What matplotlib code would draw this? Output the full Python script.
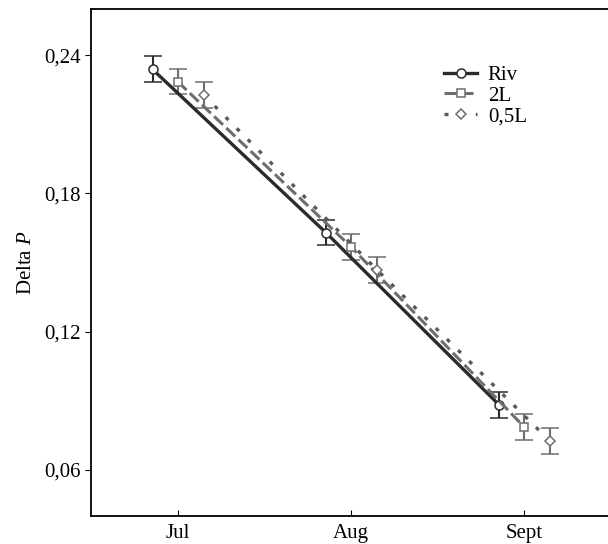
import matplotlib
matplotlib.use("Agg")
import matplotlib.pyplot as plt
from matplotlib.ticker import FuncFormatter
import numpy as np

months = ["Jul", "Aug", "Sept"]
series_names = ["Riv", "2L", "0,5L"]
riv_mean = [0.2338, 0.1630, 0.0882]
riv_err = [0.0057, 0.0056, 0.0057]
l2_mean = [0.2285, 0.1568, 0.0786]
l2_err = [0.0054, 0.0056, 0.0057]
l05_mean = [0.2227, 0.1468, 0.0724]
l05_err = [0.0056, 0.0056, 0.0057]

plt.rcParams["font.family"] = ["Liberation Serif", "DejaVu Serif"]
plt.rcParams["mathtext.fontset"] = "custom"
plt.rcParams["mathtext.it"] = "Liberation Serif:italic"
plt.rcParams["mathtext.rm"] = "Liberation Serif"

fig = plt.figure(figsize=(6.08, 5.44), dpi=100)
ax = fig.add_axes([0.1497, 0.0515, 0.855, 0.932])

x = np.arange(len(months))
styles = [
    dict(mean=riv_mean, err=riv_err, dx=-0.145, color="#2b2b2b", ecolor="#2b2b2b",
         ls="-", lw=2.4, marker="o", ms=6.5),
    dict(mean=l2_mean, err=l2_err, dx=0.0, color="#6e6e6e", ecolor="#6e6e6e",
         ls=(0, (4, 1.5)), lw=2.2, marker="s", ms=5.5),
    dict(mean=l05_mean, err=l05_err, dx=0.15, color="#5a5a5a", ecolor="#6e6e6e",
         ls=(0, (1.2, 3.5)), lw=2.4, marker="D", ms=4.8),
]
for name, s in zip(series_names, styles):
    ax.errorbar(x + s["dx"], s["mean"], yerr=s["err"], color=s["color"], ecolor=s["ecolor"],
                linestyle=s["ls"], linewidth=s["lw"], marker=s["marker"], markersize=s["ms"],
                markerfacecolor="white", markeredgecolor=s["ecolor"], markeredgewidth=1.1,
                elinewidth=1.5, capsize=6.5, capthick=1.5, label=name)

ax.set_xlim(-0.5, 2.5)
ax.set_ylim(0.04, 0.26)
ax.set_xticks(x)
ax.set_xticklabels(months)
ax.set_yticks([0.06, 0.12, 0.18, 0.24])
ax.yaxis.set_major_formatter(FuncFormatter(lambda v, p: f"{v:.2f}".replace(".", ",")))
ax.tick_params(axis="x", direction="in", length=4, labelsize=15, pad=6)
ax.tick_params(axis="y", direction="out", length=4, labelsize=15)
ax.set_ylabel("Delta $\\mathit{P}$", fontsize=15, labelpad=6)
for sp in ax.spines.values():
    sp.set_linewidth(1.3)

handles, labels = ax.get_legend_handles_labels()
handles = [h[0] for h in handles]
ax.legend(handles, labels, loc="upper left", bbox_to_anchor=(0.663, 0.905), frameon=False,
          fontsize=15, handlelength=1.6, handletextpad=0.5, labelspacing=0.05,
          borderaxespad=0)

fig.savefig("out.png", dpi=100)
